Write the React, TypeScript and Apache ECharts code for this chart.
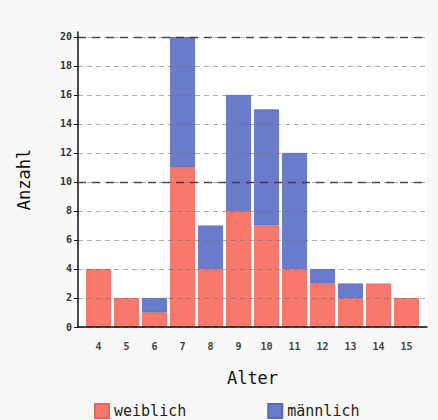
import React, { useEffect, useRef } from "react";
import * as echarts from "echarts";

const ages = ["4", "5", "6", "7", "8", "9", "10", "11", "12", "13", "14", "15"];
const weiblich = [4, 2, 1, 11, 4, 8, 7, 4, 3, 2, 3, 2];
const maennlich = [0, 0, 1, 9, 3, 8, 8, 8, 1, 1, 0, 0];
const yTicks = [0, 2, 4, 6, 8, 10, 12, 14, 16, 18, 20];
const yMajor = [10, 20];

const FONT = "DejaVu Sans Mono";

export default function App() {
  const ref = useRef<HTMLDivElement>(null);
  useEffect(() => {
    if (!ref.current) return;
    const chart = echarts.init(ref.current, undefined, { renderer: "svg" });
    const ymax = 20.34;
    const nz = (v: number) => (v === 0 ? "-" : v);
    chart.setOption({
      animation: false,
      backgroundColor: "#f8f8f8",
      grid: [
        {
          left: 78,
          right: 11,
          top: 32,
          bottom: 93,
          show: true,
          backgroundColor: "#ffffff",
          borderWidth: 0,
        },
        { left: 84.5, right: 17.5, top: 32, bottom: 93 },
      ],
      legend: {
        left: 89,
        top: 398,
        itemWidth: 14,
        itemHeight: 14,
        itemGap: 81,
        icon: "rect",
        textStyle: { fontFamily: FONT, fontSize: 15, lineHeight: 16, color: "#222" },
        data: ["weiblich", "männlich"],
      },
      xAxis: [
        {
          type: "value",
          gridIndex: 0,
          min: 0,
          max: 1,
          axisLine: { show: true, onZero: false, lineStyle: { color: "#111", width: 1.5 } },
          axisTick: { show: false },
          splitLine: { show: false },
          axisLabel: { show: false },
          z: 5,
        },
        {
          type: "category",
          gridIndex: 1,
          data: ages,
          name: "Alter",
          nameLocation: "middle",
          nameGap: 42,
          nameTextStyle: { fontFamily: FONT, fontSize: 17, color: "#111" },
          axisLine: { show: false },
          axisTick: { show: false },
          axisLabel: {
            fontFamily: FONT,
            fontSize: 10,
            fontWeight: "bold",
            color: "#444",
            margin: 14,
          },
        },
      ],
      yAxis: [
        {
          type: "value",
          gridIndex: 0,
          min: 0,
          max: ymax,
          name: "Anzahl",
          nameLocation: "middle",
          nameGap: 46,
          nameTextStyle: { fontFamily: FONT, fontSize: 17, color: "#111" },
          axisLine: { show: true, lineStyle: { color: "#111", width: 1.5 } },
          axisTick: { show: true, customValues: yTicks, length: 4, lineStyle: { color: "#111" } },
          axisLabel: {
            customValues: yTicks,
            fontFamily: FONT,
            fontSize: 10,
            fontWeight: "bold",
            color: "#333",
            margin: 6,
          },
          splitLine: {
            show: true,
            lineStyle: { color: "rgba(110,110,110,0.55)", type: [5, 4], width: 1 },
          },
          z: 5,
        },
        {
          type: "value",
          gridIndex: 0,
          min: 0,
          max: ymax,
          position: "left",
          axisLine: { show: false },
          axisTick: { show: false, customValues: yMajor },
          axisLabel: { show: false, customValues: yMajor },
          splitLine: {
            show: true,
            lineStyle: { color: "rgba(50,50,50,0.85)", type: [8, 6], width: 1.3 },
          },
          z: 6,
        },
        {
          type: "value",
          gridIndex: 1,
          min: 0,
          max: ymax,
          show: false,
          splitLine: { show: false },
        },
      ],
      series: [
        {
          name: "weiblich",
          type: "bar",
          stack: "total",
          xAxisIndex: 1,
          yAxisIndex: 2,
          barWidth: 25,
          data: weiblich.map(nz),
          itemStyle: { color: "#f8786b", borderColor: "#e8665a", borderWidth: 0.8 },
        },
        {
          name: "männlich",
          type: "bar",
          stack: "total",
          xAxisIndex: 1,
          yAxisIndex: 2,
          barWidth: 25,
          data: maennlich.map(nz),
          itemStyle: { color: "#6b7bcc", borderColor: "#5a69bb", borderWidth: 0.8 },
        },
      ],
    });
    return () => chart.dispose();
  }, []);
  return (
    <div
      ref={ref}
      style={{ position: "absolute", left: 0, top: 0, width: 438, height: 420 }}
    />
  );
}
